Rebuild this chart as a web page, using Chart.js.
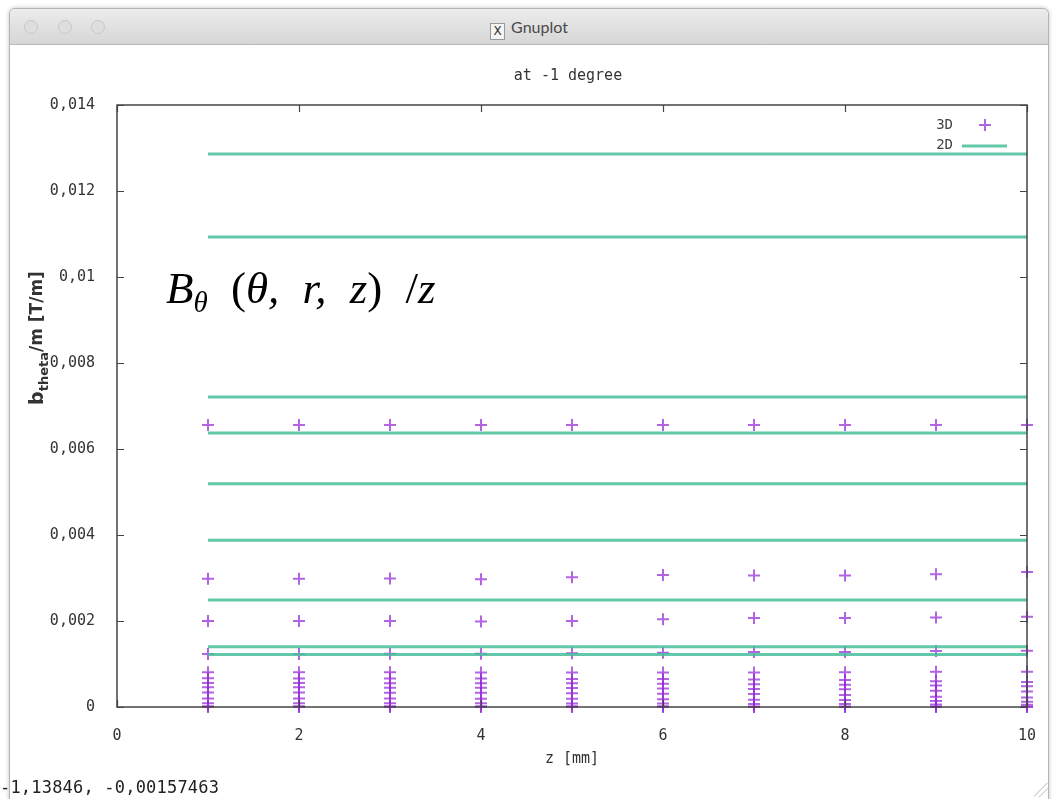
<!DOCTYPE html>
<html>
<head>
<meta charset="utf-8">
<script src="https://cdn.jsdelivr.net/npm/chart.js@4.4.1/dist/chart.umd.min.js"></script>
<style>
  html, body { margin: 0; padding: 0; background: #fff; width: 1056px; height: 799px; overflow: hidden; }
  #win { position: absolute; left: 9px; top: 8px; width: 1038px; height: 800px; border: 1px solid #b4b4b4; border-radius: 6px 6px 0 0; box-shadow: 0 0 4px rgba(0,0,0,0.25); background: #fff; }
  #bar { position: absolute; left: 0; top: 0; right: 0; height: 35px; border-radius: 6px 6px 0 0; background: linear-gradient(#ececec, #d6d6d6); border-bottom: 1px solid #b9b9b9; }
  .dot { position: absolute; top: 11px; width: 12px; height: 12px; border-radius: 50%; background: #dedede; border: 1px solid #c8c8c8; }
  #wtitle { position: absolute; left: 0; right: 0; top: 8px; text-align: center; font: 16px "Lato", "Liberation Sans", sans-serif; color: #4a4a4a; }
  #xicon { display: inline-block; width: 13px; height: 15px; border: 1px solid #999; background: #f4f4f4; font: 12px "DejaVu Sans"; line-height: 15px; vertical-align: -2px; margin-right: 6px; color: #333; }
  #wrap { position: absolute; left: 12px; top: 44px; width: 1036px; height: 735px; }
  #formula { position: absolute; left: 166px; top: 262px; font: italic 45px "Liberation Serif", "DejaVu Serif", serif; color: #000; white-space: nowrap; word-spacing: 6px; }
  #formula .up { font-style: normal; }
  #formula .sp { display: inline-block; width: 6px; }
  #formula sub { font-size: 29px; vertical-align: -9px; }
  #status { position: absolute; left: 0; top: 777px; font: 17px "DejaVu Sans Mono", monospace; color: #222; letter-spacing: 0.2px; }
  #grip { position: absolute; right: 8px; bottom: 2px; width: 14px; height: 14px; background: linear-gradient(135deg, transparent 45%, #bbb 47%, transparent 52%, transparent 65%, #bbb 67%, transparent 72%); }
</style>
</head>
<body>
<div id="win">
  <div id="bar">
    <div class="dot" style="left:14px"></div>
    <div class="dot" style="left:48px"></div>
    <div class="dot" style="left:81px"></div>
    <div id="wtitle"><span id="xicon">X</span>Gnuplot</div>
  </div>
</div>
<div id="wrap"><canvas id="grafico"></canvas></div>
<div id="formula">B<sub>θ</sub><span class="sp"></span> <span class="up">(</span>θ,<span class="sp"></span> r,<span class="sp"></span> z<span class="up">)</span><span class="sp"></span> <span class="up">/</span>z</div>
<div id="status">-1,13846, -0,00157463</div>
<div id="grip"></div>

<script>
// z positions of the 3D samples
const zVals = [1, 2, 3, 4, 5, 6, 7, 8, 9, 10];

// 3D results, one row per radius, values at z = 1..10
const row3D_a = [0.00656, 0.00656, 0.00656, 0.00656, 0.00656, 0.00656, 0.00656, 0.00656, 0.00656, 0.00656];
const row3D_b = [0.00298, 0.00298, 0.00299, 0.00297, 0.00302, 0.00307, 0.00306, 0.00306, 0.00309, 0.00314];
const row3D_c = [0.00200, 0.00200, 0.00200, 0.00199, 0.00200, 0.00204, 0.00207, 0.00207, 0.00208, 0.00210];
const row3D_d = [0.00123, 0.00123, 0.00124, 0.00124, 0.00125, 0.00126, 0.00128, 0.00128, 0.00130, 0.00131];
const row3D_e = [0.00081, 0.00081, 0.00081, 0.00080, 0.00080, 0.00080, 0.00080, 0.00081, 0.00082, 0.00082];
const row3D_f = [0.00067, 0.00066, 0.00066, 0.00066, 0.00065, 0.00065, 0.00064, 0.00063, 0.00060, 0.00058];
const row3D_g = [0.00056, 0.00056, 0.00055, 0.00055, 0.00055, 0.00054, 0.00053, 0.00052, 0.00050, 0.00048];
const row3D_h = [0.00046, 0.00046, 0.00045, 0.00045, 0.00044, 0.00043, 0.00042, 0.00041, 0.00038, 0.00036];
const row3D_i = [0.00034, 0.00034, 0.00033, 0.00033, 0.00032, 0.00031, 0.00030, 0.00028, 0.00024, 0.00022];
const row3D_j = [0.00020, 0.00020, 0.00020, 0.00019, 0.00019, 0.00018, 0.00017, 0.00016, 0.00014, 0.00012];
const row3D_k = [0.00009, 0.00009, 0.00009, 0.00009, 0.00008, 0.00008, 0.00007, 0.00007, 0.00006, 0.00005];
const row3D_l = [0.00002, 0.00002, 0.00002, 0.00002, 0.00002, 0.00002, 0.00001, 0.00001, 0.00001, 0.00001];
const row3D_m = [0, 0, 0, 0, 0, 0, 0, 0, 0, 0];
const rows3D = [row3D_a, row3D_b, row3D_c, row3D_d, row3D_e, row3D_f, row3D_g, row3D_h, row3D_i, row3D_j, row3D_k, row3D_l, row3D_m];

// 2D results: constant levels drawn from z = 1 to z = 10
const levels2D = [0.01286, 0.01093, 0.00721, 0.00637, 0.00519, 0.00388, 0.00249, 0.00140, 0.00122];
const zStart2D = 1;
const zEnd2D = 10;

const xTickValues = [0, 2, 4, 6, 8, 10];
const yTickValues = [0, 0.002, 0.004, 0.006, 0.008, 0.01, 0.012, 0.014];

const corPonto = "rgba(148, 40, 215, 0.72)";
const corLinha = "rgba(70, 190, 155, 0.85)";
const fonteEixo = "DejaVu Sans Mono";

function formatarNumero(v) {
    return String(Number(v.toFixed(4))).replace(".", ",");
}

let pontos3D = [];
rows3D.forEach(function (linha) {
    linha.forEach(function (v, i) {
        pontos3D.push({ x: zVals[i], y: v });
    });
});

let segmentos2D = [];
levels2D.forEach(function (v) {
    segmentos2D.push({ x: zStart2D, y: v });
    segmentos2D.push({ x: zEnd2D, y: v });
    segmentos2D.push({ x: zEnd2D, y: null });
});

// frame, inside ticks, title, y label and legend, gnuplot style
const estiloGnuplot = {
    id: "estiloGnuplot",
    afterDatasetsDraw(chart) {
        const ctx = chart.ctx;
        const a = chart.chartArea;
        const sx = chart.scales.x;
        const sy = chart.scales.y;
        ctx.save();

        ctx.strokeStyle = "#444";
        ctx.lineWidth = 1.5;
        ctx.strokeRect(a.left, a.top, a.right - a.left, a.bottom - a.top);

        ctx.lineWidth = 1.2;
        ctx.beginPath();
        yTickValues.forEach(function (v) {
            const y = Math.round(sy.getPixelForValue(v)) + 0.5;
            ctx.moveTo(a.left, y); ctx.lineTo(a.left + 7, y);
            ctx.moveTo(a.right, y); ctx.lineTo(a.right - 7, y);
        });
        xTickValues.forEach(function (v) {
            const x = Math.round(sx.getPixelForValue(v)) + 0.5;
            ctx.moveTo(x, a.bottom); ctx.lineTo(x, a.bottom - 7);
            ctx.moveTo(x, a.top); ctx.lineTo(x, a.top + 7);
        });
        ctx.stroke();

        ctx.fillStyle = "#333";
        ctx.font = "15px " + fonteEixo;
        ctx.textAlign = "center";
        ctx.textBaseline = "middle";
        ctx.fillText("at -1 degree", 556, 32);

        // y axis label b_theta/m [T/m]
        ctx.save();
        ctx.translate(25, 294);
        ctx.rotate(-Math.PI / 2);
        ctx.textAlign = "left";
        ctx.textBaseline = "alphabetic";
        const partes = [
            { t: "b", f: "bold 19px DejaVu Sans", dy: 0 },
            { t: "theta", f: "bold 13px DejaVu Sans", dy: 5 },
            { t: "/m [T/m]", f: "bold 17px DejaVu Sans", dy: -1 }
        ];
        let larguraTotal = 0;
        partes.forEach(function (p) { ctx.font = p.f; larguraTotal += ctx.measureText(p.t).width; });
        let px = -larguraTotal / 2;
        partes.forEach(function (p) {
            ctx.font = p.f;
            ctx.fillText(p.t, px, 6 + p.dy);
            px += ctx.measureText(p.t).width;
        });
        ctx.restore();

        // legend
        ctx.font = "14px " + fonteEixo;
        ctx.textAlign = "right";
        ctx.fillStyle = "#444";
        ctx.fillText("3D", 941, 81);
        ctx.fillText("2D", 941, 101);
        ctx.strokeStyle = corPonto;
        ctx.lineWidth = 2;
        ctx.beginPath();
        ctx.moveTo(967, 81); ctx.lineTo(979, 81);
        ctx.moveTo(973, 75); ctx.lineTo(973, 87);
        ctx.stroke();
        ctx.strokeStyle = corLinha;
        ctx.lineWidth = 3;
        ctx.beginPath();
        ctx.moveTo(950, 102); ctx.lineTo(995, 102);
        ctx.stroke();

        ctx.restore();
    }
};

const ctx = document.getElementById("grafico");

let grafico = new Chart(ctx, {
    type: "scatter",
    data: {
        datasets: [{
            label: "2D",
            type: "line",
            data: segmentos2D,
            borderColor: corLinha,
            borderWidth: 3,
            pointRadius: 0,
            spanGaps: false,
            fill: false
        }, {
            label: "3D",
            data: pontos3D,
            pointStyle: "cross",
            pointRadius: 6,
            pointBorderWidth: 2,
            borderColor: corPonto,
            backgroundColor: corPonto,
            clip: false
        }]
    },
    options: {
        responsive: true,
        maintainAspectRatio: false,
        animation: false,
        events: [],
        layout: { padding: { left: 0, right: 21, top: 61, bottom: 0 } },
        plugins: {
            legend: { display: false },
            tooltip: { enabled: false }
        },
        scales: {
            x: {
                type: "linear",
                min: 0,
                max: 10,
                grid: { display: false },
                border: { display: false },
                afterBuildTicks: function (s) { s.ticks = xTickValues.map(function (v) { return { value: v }; }); },
                afterFit: function (s) { s.height = 72; s.paddingLeft = 0; s.paddingRight = 0; },
                ticks: {
                    padding: 12,
                    maxRotation: 0,
                    color: "#333",
                    font: { family: fonteEixo, size: 15 }
                },
                title: {
                    display: true,
                    text: "z [mm]",
                    color: "#333",
                    font: { family: fonteEixo, size: 15 },
                    padding: { top: 0, bottom: 11 }
                }
            },
            y: {
                min: 0,
                max: 0.014,
                grid: { display: false },
                border: { display: false },
                afterBuildTicks: function (s) { s.ticks = yTickValues.map(function (v) { return { value: v }; }); },
                afterFit: function (s) { s.width = 105; s.paddingTop = 0; s.paddingBottom = 0; },
                ticks: {
                    padding: 14,
                    color: "#333",
                    font: { family: fonteEixo, size: 15 },
                    callback: function (v) { return formatarNumero(v); }
                }
            }
        }
    },
    plugins: [estiloGnuplot]
});
</script>
</body>
</html>
